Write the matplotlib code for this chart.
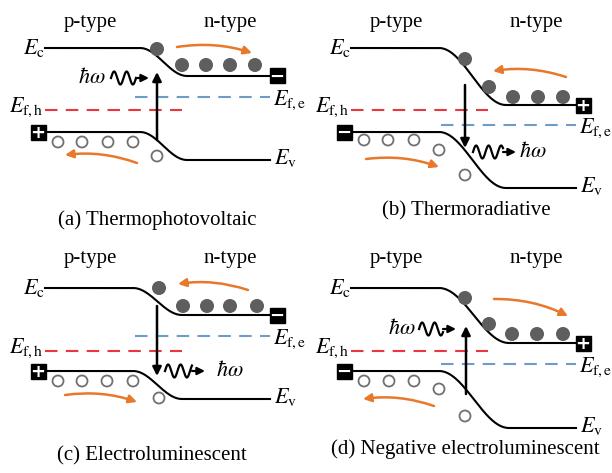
import numpy as np
import matplotlib
matplotlib.use("Agg")
import matplotlib.pyplot as plt
from matplotlib.patches import Rectangle, Circle, FancyArrowPatch

plt.rcParams['mathtext.fontset'] = 'stix'
plt.rcParams['font.family'] = ['Liberation Serif', 'DejaVu Serif']

# ---------------- data (panel-local pixel coordinates of the schematic) ----
captions = ['(a) Thermophotovoltaic', '(b) Thermoradiative',
            '(c) Electroluminescent', '(d) Negative electroluminescent']
origin_x = [0, 306, 0, 306]
origin_y = [0, 0, 236, 236]
caption_x = [157, 160, 152, 159]
caption_y = [220, 211, 220, 213]
ec_p = [48, 48, 52, 52]
ec_n = [76, 105, 79, 107]
ev_p = [132, 132, 135, 135]
ev_n = [160, 188, 163, 192]
ef_h = [110, 110, 115, 115]
ef_e = [97, 125, 100, 128]
bend_start = [140, 133, 133, 133]
bend_end = [187, 200, 182, 203]
p_sign = ['+', '\u2212', '+', '\u2212']
n_sign = ['\u2212', '+', '\u2212', '+']

electrons_x = [[157, 182, 206, 230, 255], [159, 183, 207, 232, 257],
               [159, 183, 207, 230, 257], [159, 183, 206, 231, 257]]
electrons_y = [[49, 65, 65, 65, 65], [59, 87, 97, 97, 97],
               [52, 70, 70, 70, 70], [62, 88, 98, 98, 98]]
holes_x = [[58, 82, 108, 133, 157], [58, 82, 108, 133, 159],
           [58, 82, 107, 133, 159], [58, 83, 108, 133, 159]]
holes_y = [[142, 142, 142, 142, 156], [140, 140, 140, 150, 175],
           [145, 145, 145, 145, 162], [145, 145, 145, 153, 180]]

trans_x = [157, 159, 157, 160]
trans_from = [140, 85, 70, 158]
trans_to = [72, 148, 140, 90]

wave_start = [111, 167, 165, 113]
wave_end = [149, 210, 205, 150]
wave_y = [78, 152, 135, 93]
hw_x = [92, 227, 230, 96]

flow_top = [((177, 47), (252, 53)), ((260, 77), (187, 71)),
            ((248, 54), (178, 48)), ((188, 63), (262, 80))]
flow_bot = [((137, 163), (65, 155)), ((60, 159), (133, 167)),
            ((65, 159), (137, 166)), ((128, 170), (57, 163))]

ORANGE = '#E8782A'
RED = '#E8383D'
BLUE = '#6F9BC8'
GRAY = '#5E5E5E'

fig = plt.figure(figsize=(6.12, 4.73), dpi=100)
ax = fig.add_axes([0, 0, 1, 1])
ax.set_xlim(0, 612)
ax.set_ylim(473, 0)
ax.axis('off')


def band(x, y_hi, y_lo, x0, x1):
    t = np.clip((x - x0) / (x1 - x0), 0, 1)
    return y_hi + (y_lo - y_hi) * (1 - np.cos(np.pi * t)) / 2


def box(x, y, sign):
    s = 15
    ax.add_patch(Rectangle((x - s / 2, y - s / 2), s, s, color='black', zorder=5))
    ax.text(x, y + 0.5, sign, color='white', fontsize=13, fontweight='bold',
            ha='center', va='center', family='DejaVu Sans', zorder=6)


for i in range(4):
    ox, oy = origin_x[i], origin_y[i]
    X = lambda v: ox + v
    Y = lambda v: oy + v

    ax.text(X(90), Y(22), 'p-type', fontsize=15, ha='center', va='center')
    ax.text(X(230), Y(22), 'n-type', fontsize=15, ha='center', va='center')
    ax.text(X(caption_x[i]), Y(caption_y[i]), captions[i],
            fontsize=15, ha='center', va='center')

    xs = np.linspace(45, 270, 300)
    ax.plot(X(xs), Y(band(xs, ec_p[i], ec_n[i], bend_start[i], bend_end[i])),
            color='black', lw=1.5)
    ax.plot(X(xs), Y(band(xs, ev_p[i], ev_n[i], bend_start[i], bend_end[i])),
            color='black', lw=1.5)

    ax.plot([X(45), X(182)], [Y(ef_h[i])] * 2, color=RED, lw=1.5,
            dashes=(6, 4))
    ax.plot([X(135), X(270)], [Y(ef_e[i])] * 2, color=BLUE, lw=1.5,
            dashes=(6, 4))

    ax.text(X(45), Y(ec_p[i]), r'$E_\mathrm{c}$', fontsize=16, ha='right',
            va='center')
    ax.text(X(274), Y(ev_n[i] - 2), r'$E_\mathrm{v}$', fontsize=16, ha='left',
            va='center')
    ax.text(X(44), Y(ef_h[i] - 3), r'$E_\mathrm{f,h}$', fontsize=16,
            ha='right', va='center')
    ax.text(X(273), Y(ef_e[i] + 3), r'$E_\mathrm{f,e}$', fontsize=16,
            ha='left', va='center')

    box(X(38), Y(ev_p[i]), p_sign[i])
    box(X(277), Y(ec_n[i]), n_sign[i])

    for ex, ey in zip(electrons_x[i], electrons_y[i]):
        ax.add_patch(Circle((X(ex), Y(ey)), 6.3, color=GRAY, zorder=4))
    for hx, hy in zip(holes_x[i], holes_y[i]):
        ax.add_patch(Circle((X(hx), Y(hy)), 5.5, facecolor='white',
                            edgecolor='#707070', lw=1.3, zorder=4))

    ax.annotate('', xy=(X(trans_x[i]), Y(trans_to[i])),
                xytext=(X(trans_x[i]), Y(trans_from[i])),
                arrowprops=dict(arrowstyle='-|>', color='black', lw=1.8,
                                mutation_scale=13, shrinkA=0, shrinkB=0))

    wx = np.linspace(wave_start[i], wave_end[i] - 13, 160)
    wy = wave_y[i] - 6.5 * np.sin(2 * np.pi * (wx - wave_start[i]) / 12.5)
    ax.plot(X(wx), Y(wy), color='black', lw=1.6)
    ax.annotate('', xy=(X(wave_end[i]), Y(wave_y[i])),
                xytext=(X(wave_end[i] - 13), Y(wave_y[i])),
                arrowprops=dict(arrowstyle='-|>', color='black', lw=1.6,
                                mutation_scale=11, shrinkA=0, shrinkB=0))
    ax.text(X(hw_x[i]), Y(wave_y[i]), r'$\hbar\omega$', fontsize=16,
            ha='center', va='center')

    for (a, b) in (flow_top[i], flow_bot[i]):
        rad = -0.12 if b[0] > a[0] else 0.12
        ax.add_patch(FancyArrowPatch((X(a[0]), Y(a[1])), (X(b[0]), Y(b[1])),
                                     connectionstyle=f'arc3,rad={rad}',
                                     arrowstyle='-|>', mutation_scale=12,
                                     color=ORANGE, lw=1.8, shrinkA=0,
                                     shrinkB=0))

fig.savefig('out.png', dpi=100)
